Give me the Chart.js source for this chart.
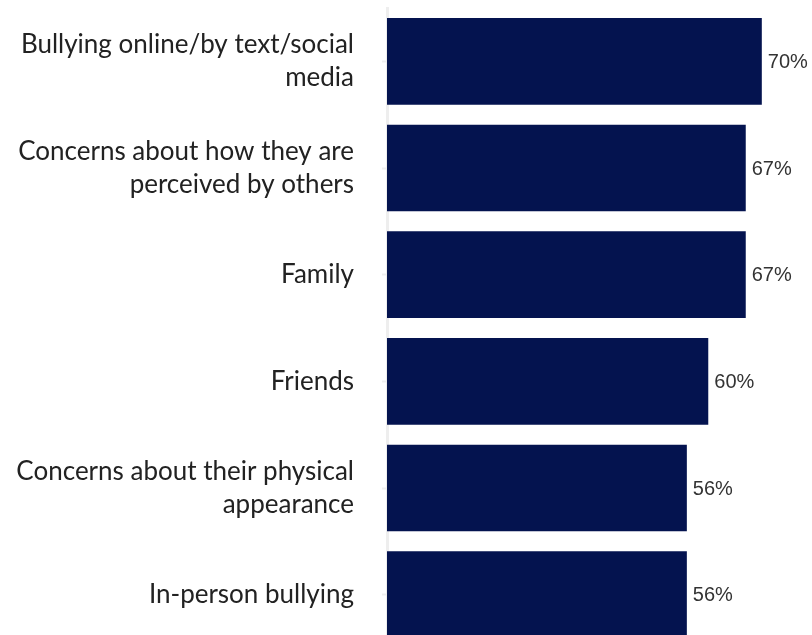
<!DOCTYPE html>
<html>
<head>
<meta charset="utf-8">
<script src="https://cdn.jsdelivr.net/npm/chart.js@4/dist/chart.umd.min.js"></script>
<style>
  html, body { margin: 0; padding: 0; background: #ffffff; overflow: hidden; }
  #wrap { position: relative; width: 812px; height: 648px; }
</style>
</head>
<body>
<div id="wrap"><canvas id="chart"></canvas></div>
<script>
// Categories (multi-line labels) and their shares in percent
const categories = [
  ['Bullying online/by text/social', 'media'],
  ['Concerns about how they are', 'perceived by others'],
  'Family',
  'Friends',
  ['Concerns about their physical', 'appearance'],
  'In-person bullying'
];
const values = [70, 67, 67, 60, 56, 56];
const valueLabels = values.map(v => v + '%');

// Writes each bar's value just past its end
const barValueLabels = {
  id: 'barValueLabels',
  afterDatasetsDraw(chart) {
    const ctx = chart.ctx;
    const meta = chart.getDatasetMeta(0);
    ctx.save();
    ctx.font = '20px "Liberation Sans", Arial, sans-serif';
    ctx.fillStyle = '#333333';
    ctx.textAlign = 'left';
    ctx.textBaseline = 'middle';
    meta.data.forEach((bar, i) => {
      ctx.fillText(valueLabels[i], bar.x + 6, bar.y + 1);
    });
    ctx.restore();
  }
};

new Chart(document.getElementById('chart'), {
  type: 'bar',
  data: {
    labels: categories,
    datasets: [{
      data: values,
      backgroundColor: '#04134f',
      borderWidth: 0,
      barPercentage: 0.813,
      categoryPercentage: 1
    }]
  },
  options: {
    indexAxis: 'y',
    responsive: true,
    maintainAspectRatio: false,
    animation: false,
    layout: { padding: { top: 8, right: 2, bottom: 0, left: 0 } },
    plugins: {
      legend: { display: false },
      tooltip: { enabled: false }
    },
    scales: {
      x: {
        display: false,
        min: 0,
        max: 79
      },
      y: {
        afterFit(scale) {
          scale.width = 387;
          scale.paddingTop = 0;
          scale.paddingBottom = 0;
        },
        grid: {
          offset: false,
          drawOnChartArea: false,
          tickLength: 5,
          tickWidth: 2,
          tickColor: '#eeeeee'
        },
        border: { display: true, color: '#eeeeee', width: 3 },
        ticks: {
          padding: 28,
          color: '#222222',
          font: { family: 'Lato, "Noto Sans", sans-serif', size: 26, lineHeight: 1.25 }
        }
      }
    }
  },
  plugins: [barValueLabels]
});
</script>
</body>
</html>
